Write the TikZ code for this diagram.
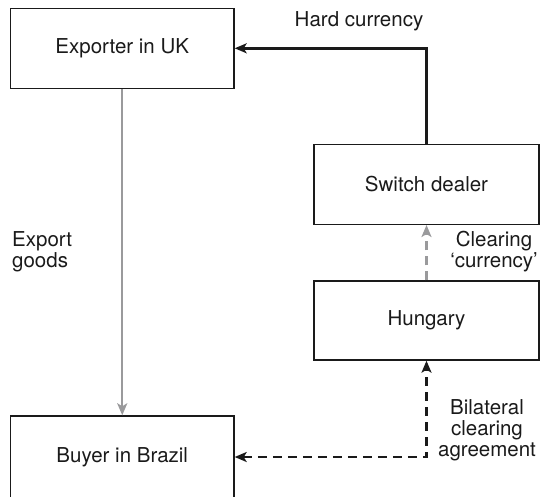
\documentclass[tikz,border=0pt]{standalone}
\usepackage{fontspec}
\setmainfont{TeX Gyre Heros}
\usetikzlibrary{arrows.meta}
\definecolor{inkc}{HTML}{1A1A1A}
\definecolor{greyc}{HTML}{9A9A9C}
\begin{document}
\begin{tikzpicture}[x=1pt,y=-1pt,
  every node/.style={font=\fontsize{20.5}{21}\selectfont, text=inkc},
  boxnode/.style={draw=inkc, line width=1.4pt, rectangle, inner sep=0pt},
  lbl/.style={align=center, inner sep=0pt},
  headtip/.style={Stealth[length=12pt,width=10pt,inset=3pt]},
  tip/.style={-{Stealth[length=12pt,width=10pt,inset=3pt]}},
  solidblack/.style={draw=inkc, line width=2.6pt},
  solidgrey/.style={draw=greyc, line width=2.4pt},
  dashblack/.style={draw=inkc, line width=2.6pt, dash pattern=on 9pt off 6pt},
  dashgrey/.style={draw=greyc, line width=2.4pt, dash pattern=on 9pt off 6pt}]
\useasboundingbox (0,0) rectangle (540,496);
\node[boxnode, minimum width=223.5pt, minimum height=80pt] (exp) at (122.25,48.3) {Exporter in UK};
\node[boxnode, minimum width=225pt, minimum height=80pt] (sw) at (426.5,184.3) {Switch dealer};
\node[boxnode, minimum width=225pt, minimum height=79pt] (hu) at (426.5,320.5) {Hungary};
\node[boxnode, minimum width=223.5pt, minimum height=82pt] (buy) at (122.25,457) {Buyer in Brazil};
\node[lbl] (lhard) at (359,21) {Hard currency};
\node[lbl, align=left, anchor=west] (lexp) at (12,252) {Export\\goods};
\node[lbl] (lclr) at (494,252) {Clearing\\‘currency’};
\node[lbl] (lbil) at (487,430) {Bilateral\\clearing\\agreement};
\draw[solidgrey, tip] (exp.south) -- (buy.north);
\draw[solidblack, tip] (sw.north) |- (exp.east);
\draw[dashgrey, tip] (hu.north) -- (sw.south);
\draw[dashblack, {Stealth[length=12pt,width=10pt,inset=3pt]}-{Stealth[length=12pt,width=10pt,inset=3pt]}] (buy.east) -| (hu.south);
\end{tikzpicture}
\end{document}
